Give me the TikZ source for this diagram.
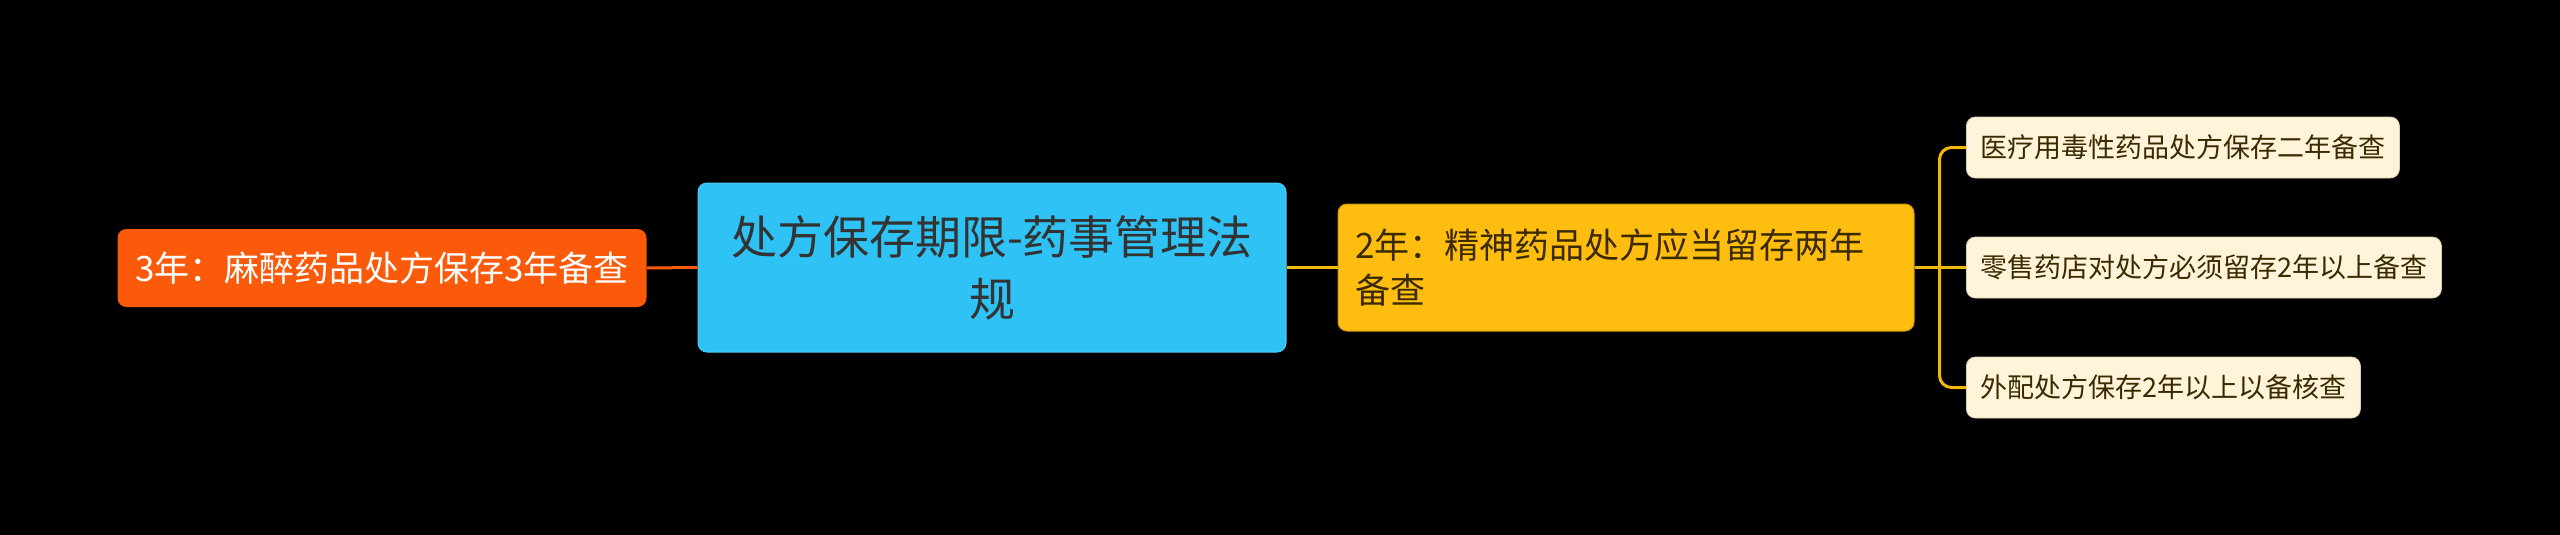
\documentclass[tikz,border=0pt]{standalone}
\usepackage{fontspec}
\setmainfont{Noto Sans CJK SC}
\usetikzlibrary{calc}
\definecolor{bgc}{HTML}{000000}
\definecolor{orangec}{HTML}{FA5A0A}
\definecolor{bluec}{HTML}{2EC3F4}
\definecolor{yellowc}{HTML}{FFBE0F}
\definecolor{yellowline}{HTML}{F2B80C}
\definecolor{creamc}{HTML}{FFF4DA}
\definecolor{darktext}{HTML}{333333}
\definecolor{browntext}{HTML}{3A2A00}
\tikzset{
  box/.style={rounded corners=9pt, inner sep=0pt, font=\fontsize{27}{34}\selectfont},
  centralbox/.style={box, fill=bluec, draw=bluec!85!white, line width=1pt, minimum width=588pt, minimum height=169pt, align=center, text=darktext, font=\fontsize{46}{62}\selectfont},
  leftbox/.style={box, fill=orangec, minimum width=529pt, minimum height=78pt, text=white, font=\fontsize{35}{42}\selectfont},
  yellowbox/.style={box, fill=yellowc, draw=yellowc!80!black, line width=1pt, minimum width=576pt, minimum height=127pt, text width=542pt, inner xsep=17pt, align=left, text=browntext, font=\fontsize{35}{45}\selectfont},
  leafbox/.style={box, fill=creamc, draw=creamc!85!black, line width=0.8pt, minimum height=61pt, inner xsep=14pt, anchor=west, text=browntext, font=\fontsize{27}{34}\selectfont},
  orangelink/.style={draw=orangec, line width=3pt},
  yellowlink/.style={draw=yellowline, line width=3pt, rounded corners=12pt},
}
\begin{document}
\begin{tikzpicture}[x=1pt,y=-1pt]
\fill[bgc] (0,0) rectangle (2560,535);
\useasboundingbox (0,0) rectangle (2560,535);
\node[centralbox] (root) at (992,267.5) {处方保存期限-药事管理法\\规};
\node[leftbox] (left) at (382,268) {3年：麻醉药品处方保存3年备查};
\node[yellowbox] (two) at (1626,267.5) {2年：精神药品处方应当留存两年\\备查};
\node[leafbox] (c1) at (1966,147.5) {医疗用毒性药品处方保存二年备查};
\node[leafbox] (c2) at (1966,267.5) {零售药店对处方必须留存2年以上备查};
\node[leafbox] (c3) at (1966,387.5) {外配处方保存2年以上以备核查};
\coordinate (j) at ($(two.east)+(25,0)$);
\path[orangelink] (root.west) -- (left.east);
\path[yellowlink] (root.east) -- (two.west);
\path[yellowlink] (two.east) -- (c2.west);
\path[yellowlink] (j) |- (c1.west);
\path[yellowlink] (j) |- (c3.west);
\end{tikzpicture}
\end{document}
